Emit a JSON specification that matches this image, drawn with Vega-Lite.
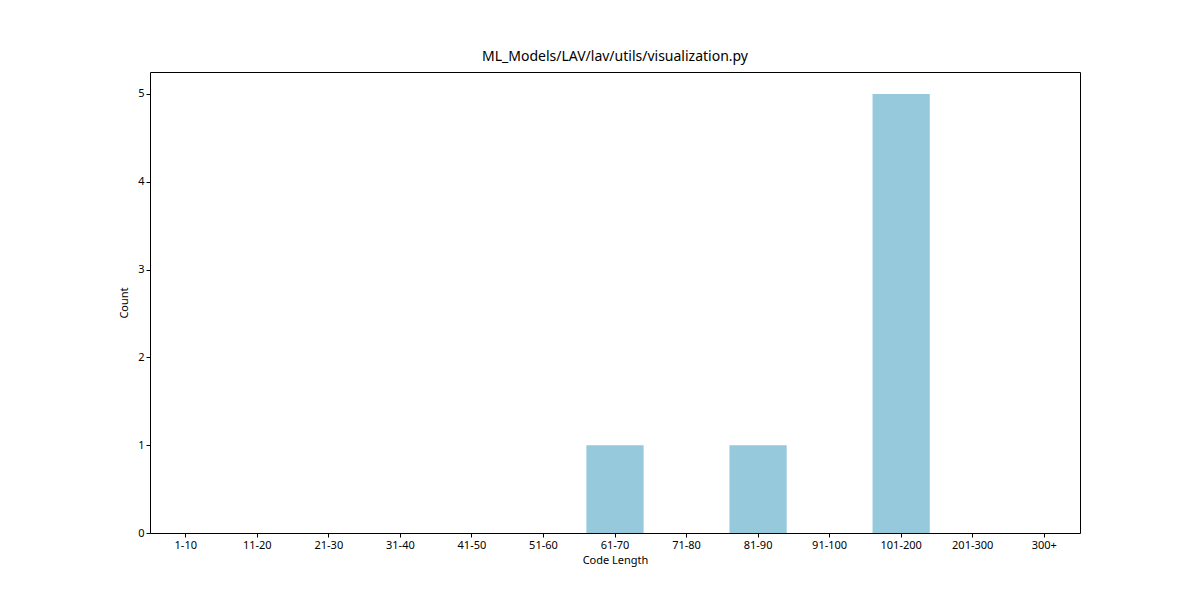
{
  "$schema": "https://vega.github.io/schema/vega-lite/v6.json",
  "width": 930,
  "height": 461,
  "autosize": {"type": "none"},
  "padding": {"left": 150, "top": 72, "right": 120, "bottom": 67},
  "background": "white",
  "title": {"text": "ML_Models/LAV/lav/utils/visualization.py", "font": "Noto Sans", "fontSize": 14, "fontWeight": "normal", "offset": 8},
  "data": {
    "values": [
      {"range": "1-10", "count": 0},
      {"range": "11-20", "count": 0},
      {"range": "21-30", "count": 0},
      {"range": "31-40", "count": 0},
      {"range": "41-50", "count": 0},
      {"range": "51-60", "count": 0},
      {"range": "61-70", "count": 1},
      {"range": "71-80", "count": 0},
      {"range": "81-90", "count": 1},
      {"range": "91-100", "count": 0},
      {"range": "101-200", "count": 5},
      {"range": "201-300", "count": 0},
      {"range": "300+", "count": 0}
    ]
  },
  "mark": {"type": "bar", "color": "#96c9dc"},
  "encoding": {
    "x": {
      "field": "range", "type": "nominal", "sort": null, "title": "Code Length",
      "scale": {"paddingInner": 0.2, "paddingOuter": 0.1},
      "axis": {"labelAngle": 0, "labelFont": "Noto Sans", "titleFont": "Noto Sans", "labelFontSize": 11, "titleFontSize": 11, "titleFontWeight": "normal", "labelColor": "black", "titleColor": "black", "tickColor": "black", "domain": false, "tickSize": 4, "titlePadding": 4}
    },
    "y": {
      "field": "count", "type": "quantitative", "title": "Count",
      "scale": {"domain": [0, 5.25], "nice": false},
      "axis": {"values": [0, 1, 2, 3, 4, 5], "grid": false, "labelFont": "Noto Sans", "titleFont": "Noto Sans", "labelFontSize": 11, "titleFontSize": 11, "titleFontWeight": "normal", "labelColor": "black", "titleColor": "black", "tickColor": "black", "domain": false, "tickSize": 4, "titlePadding": 8}
    }
  },
  "config": {"view": {"stroke": "black", "strokeWidth": 1}}
}
